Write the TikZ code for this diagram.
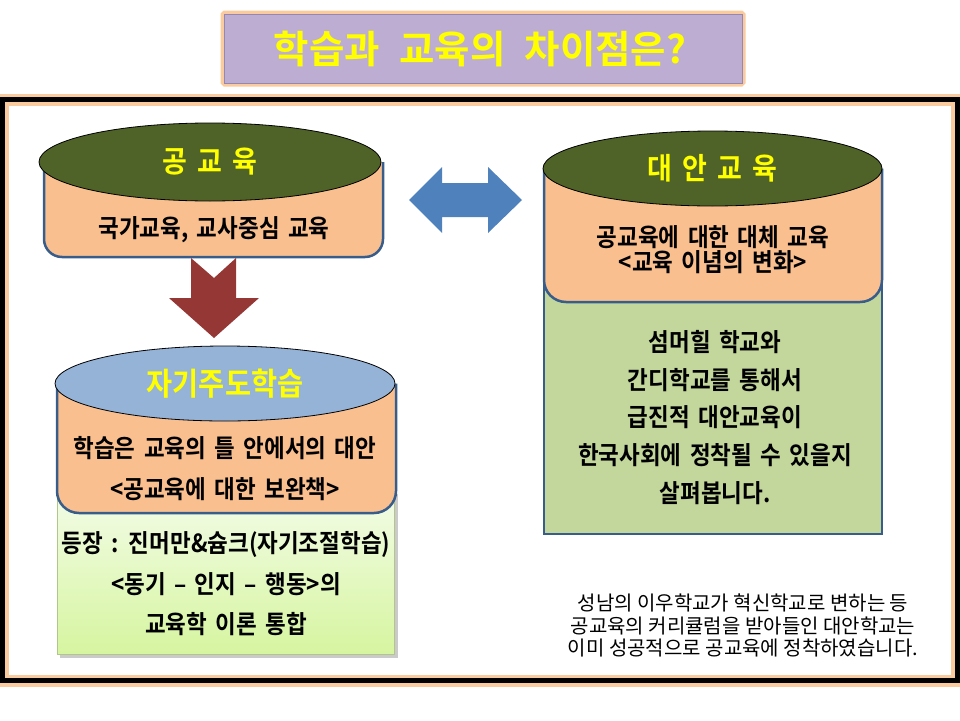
\documentclass[tikz,border=0pt]{standalone}
\usepackage{fontspec}
\setmainfont{Noto Sans CJK KR}[FakeStretch=0.9, WordSpace=1.65, BoldFont={Noto Sans CJK KR Bold}]
\newfontfamily\titlefont{Noto Sans CJK KR}[WordSpace=2.2, BoldFont={Noto Sans CJK KR Bold}]
\newfontfamily\notefont{Noto Sans CJK KR}[WordSpace=1.0]
\usetikzlibrary{shapes.geometric}
\definecolor{peach}{RGB}{250,191,143}
\definecolor{bordblue}{RGB}{56,93,138}
\definecolor{olivedark}{RGB}{79,98,40}
\definecolor{skyell}{RGB}{149,179,215}
\definecolor{sage}{RGB}{195,214,155}
\definecolor{arrowred}{RGB}{149,55,53}
\definecolor{arrowblue}{RGB}{79,129,189}
\definecolor{titlepurple}{RGB}{189,173,211}
\definecolor{titleedge}{RGB}{150,135,175}
\definecolor{glow}{RGB}{250,203,158}
\definecolor{limetop}{RGB}{243,252,232}
\definecolor{limebot}{RGB}{214,245,160}
\definecolor{limeedge}{RGB}{178,198,140}
\definecolor{hiyellow}{RGB}{255,255,0}
\tikzset{
  bodyshape/.style={fill=peach, draw=bordblue, line width=2.5pt},
  capshape/.style={ellipse, draw=black, line width=0.8pt, inner sep=0pt,
    text=hiyellow, font=\fontsize{30}{34}\selectfont\bfseries},
  bodytext/.style={inner sep=0pt, align=center, text=black},
}
\begin{document}
\begin{tikzpicture}[x=1pt,y=-1pt]
\useasboundingbox (0,0) rectangle (960,720);
% outer frame
\draw[line width=12pt, glow] (2.5,99.5) rectangle (957,680.5);
\draw[line width=5pt, black] (2.5,99.5) rectangle (957,680.5);
% title
\draw[line width=7pt, glow, rounded corners=1pt] (224,14) rectangle (742,83);
\draw[fill=titlepurple, draw=titleedge, line width=1pt] (224,14) rectangle (742,83);
\node[inner sep=0pt, text=hiyellow, font=\titlefont\fontsize{38.5}{44}\selectfont\bfseries] (title) at (480,49) {학습과 교육의 차이점은?};

% ---- left top cylinder: 공교육
\path[bodyshape] (44,162) -- (44,239) arc[start angle=180, end angle=90, radius=18] -- (365,257) arc[start angle=90, end angle=0, radius=18] -- (383,162);
\node[capshape, fill=olivedark, minimum width=342pt, minimum height=78pt] (pub) at (210,162) {공 교 육};
\node[bodytext, font=\fontsize{25}{27}\selectfont\bfseries] (pubtxt) at (214,230) {국가교육, 교사중심 교육};

% red down arrow
\fill[arrowred] (191,258) coordinate (ra1) -- (214,278) -- (236,258) -- (236,298) -- (259,298) -- (214,338) coordinate (ratip) -- (169,298) -- (191,298) -- cycle;

% blue double arrow
\fill[arrowblue] (409,200) coordinate (bal) -- (442,167) -- (442,183) -- (488,183) -- (488,167) -- (522,200) coordinate (bar) -- (488,233) -- (488,217) -- (442,217) -- (442,233) -- cycle;

% ---- right cylinder: 대안교육
\path[fill=sage, draw=bordblue, line width=2.5pt] (544,280) rectangle (882,534);
\path[bodyshape] (544,168.5) -- (544,280) arc[start angle=180, end angle=90, radius=22] -- (860,302) arc[start angle=90, end angle=0, radius=22] -- (882,168.5);
\node[capshape, fill=olivedark, minimum width=339pt, minimum height=75pt] (alt) at (712.5,168.5) {대 안 교 육};
\node[bodytext, font=\fontsize{25}{25}\selectfont\bfseries] (alttxt) at (713,249.5) {공교육에 대한 대체 교육\\<교육 이념의 변화>};
\node[bodytext, font=\fontsize{25}{37.8}\selectfont\bfseries] (altgreen) at (715,417.5) {섬머힐 학교와\\간디학교를 통해서\\급진적 대안교육이\\한국사회에 정착될 수 있을지\\살펴봅니다.};

% ---- left bottom cylinder: 자기주도학습
\fill[black!35, opacity=0.6] (60,494) rectangle (398,658);
\shade[top color=limetop, bottom color=limebot] (57,490) rectangle (394,654);
\draw[line width=0.8pt, limeedge] (57,490) rectangle (394,654);
\path[bodyshape] (57,383.5) -- (57,491) arc[start angle=180, end angle=90, radius=22] -- (374,513) arc[start angle=90, end angle=0, radius=22] -- (396,383.5);
\node[capshape, fill=skyell, minimum width=340pt, minimum height=75pt, font=\fontsize{31.5}{34}\selectfont\bfseries] (self) at (225,383.5) {자기주도학습};
\node[bodytext, font=\fontsize{25}{41}\selectfont\bfseries] (selftxt) at (225,468.5) {학습은 교육의 틀 안에서의 대안\\<공교육에 대한 보완책>};
\node[bodytext, font=\fontsize{25}{40.5}\selectfont\bfseries] (selfgreen) at (226,584) {등장 : 진머만\&슘크(자기조절학습)\\<동기 – 인지 – 행동>의\\교육학 이론 통합};

% ---- note
\node[bodytext, font=\notefont\fontsize{20}{22.5}\selectfont] (note) at (743,625.5) {성남의 이우학교가 혁신학교로 변하는 등\\공교육의 커리큘럼을 받아들인 대안학교는\\이미 성공적으로 공교육에 정착하였습니다.};
\end{tikzpicture}
\end{document}
